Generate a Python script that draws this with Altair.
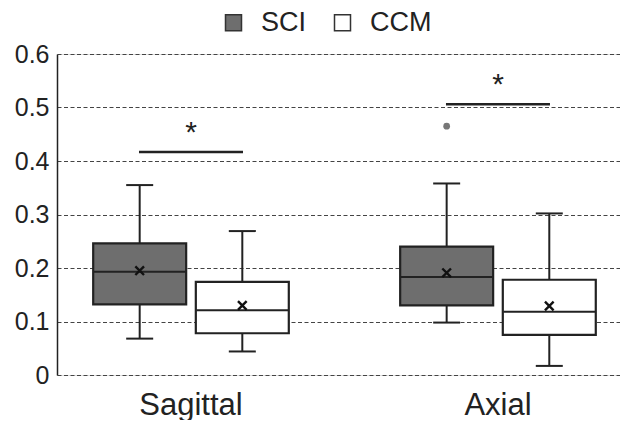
import altair as alt
import pandas as pd

views = ["Sagittal", "Sagittal", "Axial", "Axial"]
groups = ["SCI", "CCM", "SCI", "CCM"]
lo = [0.068, 0.044, 0.098, 0.017]
q1 = [0.132, 0.078, 0.130, 0.075]
median = [0.193, 0.121, 0.183, 0.118]
q3 = [0.246, 0.174, 0.240, 0.178]
hi = [0.355, 0.269, 0.358, 0.302]
mean = [0.195, 0.130, 0.191, 0.129]

outlier_view = ["Axial"]
outlier_group = ["SCI"]
outlier_value = [0.465]

sig_view = ["Sagittal", "Axial"]
sig_bar = [0.417, 0.506]
sig_star = [0.452, 0.542]
sig_text = ["*", "*"]

df = pd.DataFrame(dict(view=views, group=groups, lo=lo, q1=q1, median=median,
                       q3=q3, hi=hi, mean=mean))
df_out = pd.DataFrame(dict(view=outlier_view, group=outlier_group, value=outlier_value))
df_sig = pd.DataFrame(dict(view=sig_view, bar=sig_bar, star=sig_star, text=sig_text))

FONT = "Liberation Sans"
cat_order = ["Sagittal", "Axial"]
grp_order = ["SCI", "CCM"]

xenc = alt.X("view:N", sort=cat_order, title=None,
             scale=alt.Scale(paddingInner=0.316, paddingOuter=0.075, align=0.63),
             axis=alt.Axis(labelAngle=0, labelFontSize=31, labelFont=FONT, labelColor="#222",
                           domain=False, ticks=False, labelPadding=15))
xoff = alt.XOffset("group:N", sort=grp_order,
                   scale=alt.Scale(paddingInner=0.094, paddingOuter=0.07))
yscale = alt.Scale(domain=[0, 0.6], nice=False, zero=True)
yaxis = alt.Axis(values=[0, 0.1, 0.2, 0.3, 0.4, 0.5, 0.6], format="~g", labelFontSize=25,
                 labelFont=FONT, labelColor="#222", ticks=False, labelPadding=8,
                 domain=True, domainColor="#222", domainWidth=1.5,
                 grid=True, gridColor="#444", gridDash=[4, 2.5], gridWidth=1, title=None)

base = alt.Chart(df)

whisk = base.mark_rule(color="#222", strokeWidth=2).encode(
    x=xenc, xOffset=xoff,
    y=alt.Y("lo:Q", scale=yscale, axis=yaxis), y2="hi:Q")

box = base.mark_bar(stroke="#222", strokeWidth=2.2, opacity=1).encode(
    x=xenc, xOffset=xoff,
    y=alt.Y("q1:Q", scale=yscale), y2="q3:Q",
    color=alt.Color("group:N", sort=grp_order,
                    scale=alt.Scale(domain=grp_order, range=["#6e6e6e", "#ffffff"]),
                    legend=alt.Legend(title=None, orient="none", legendX=163, legendY=-45,
                                      direction="horizontal", symbolType="square",
                                      symbolSize=256, symbolStrokeColor="#333",
                                      symbolStrokeWidth=1.5, labelFontSize=27,
                                      labelFont=FONT, labelColor="#222", labelOffset=14,
                                      columnPadding=22)))

med = base.mark_tick(color="#222", thickness=2, size=92, opacity=1).encode(
    x=xenc, xOffset=xoff, y=alt.Y("median:Q", scale=yscale))

cap_lo = base.mark_tick(color="#222", thickness=2, size=27, opacity=1).encode(
    x=xenc, xOffset=xoff, y=alt.Y("lo:Q", scale=yscale))
cap_hi = base.mark_tick(color="#222", thickness=2, size=27, opacity=1).encode(
    x=xenc, xOffset=xoff, y=alt.Y("hi:Q", scale=yscale))

mean_pt = base.mark_point(shape="M-1,-1L1,1M-1,1L1,-1", filled=False, stroke="#111",
                          strokeWidth=2.4, size=75, opacity=1).encode(
    x=xenc, xOffset=xoff, y=alt.Y("mean:Q", scale=yscale))

outl = alt.Chart(df_out).mark_point(filled=True, color="#777", size=45, opacity=1).encode(
    x=xenc, xOffset=xoff, y=alt.Y("value:Q", scale=yscale))

sigbar = alt.Chart(df_sig).mark_tick(color="#222", thickness=2.5, size=104, opacity=1).encode(
    x=xenc, y=alt.Y("bar:Q", scale=yscale))
star = alt.Chart(df_sig).mark_text(fontSize=30, font=FONT, color="#222").encode(
    x=xenc, y=alt.Y("star:Q", scale=yscale), text="text:N")

chart = alt.layer(whisk, box, med, cap_lo, cap_hi, mean_pt, outl, sigbar, star).properties(
    width=563, height=321,
    padding={"left": 6, "top": 1, "right": 0, "bottom": 0}
).configure_view(stroke=None).configure(background="white")

chart.save("out.html", embed_options={"renderer": "svg", "actions": False})
